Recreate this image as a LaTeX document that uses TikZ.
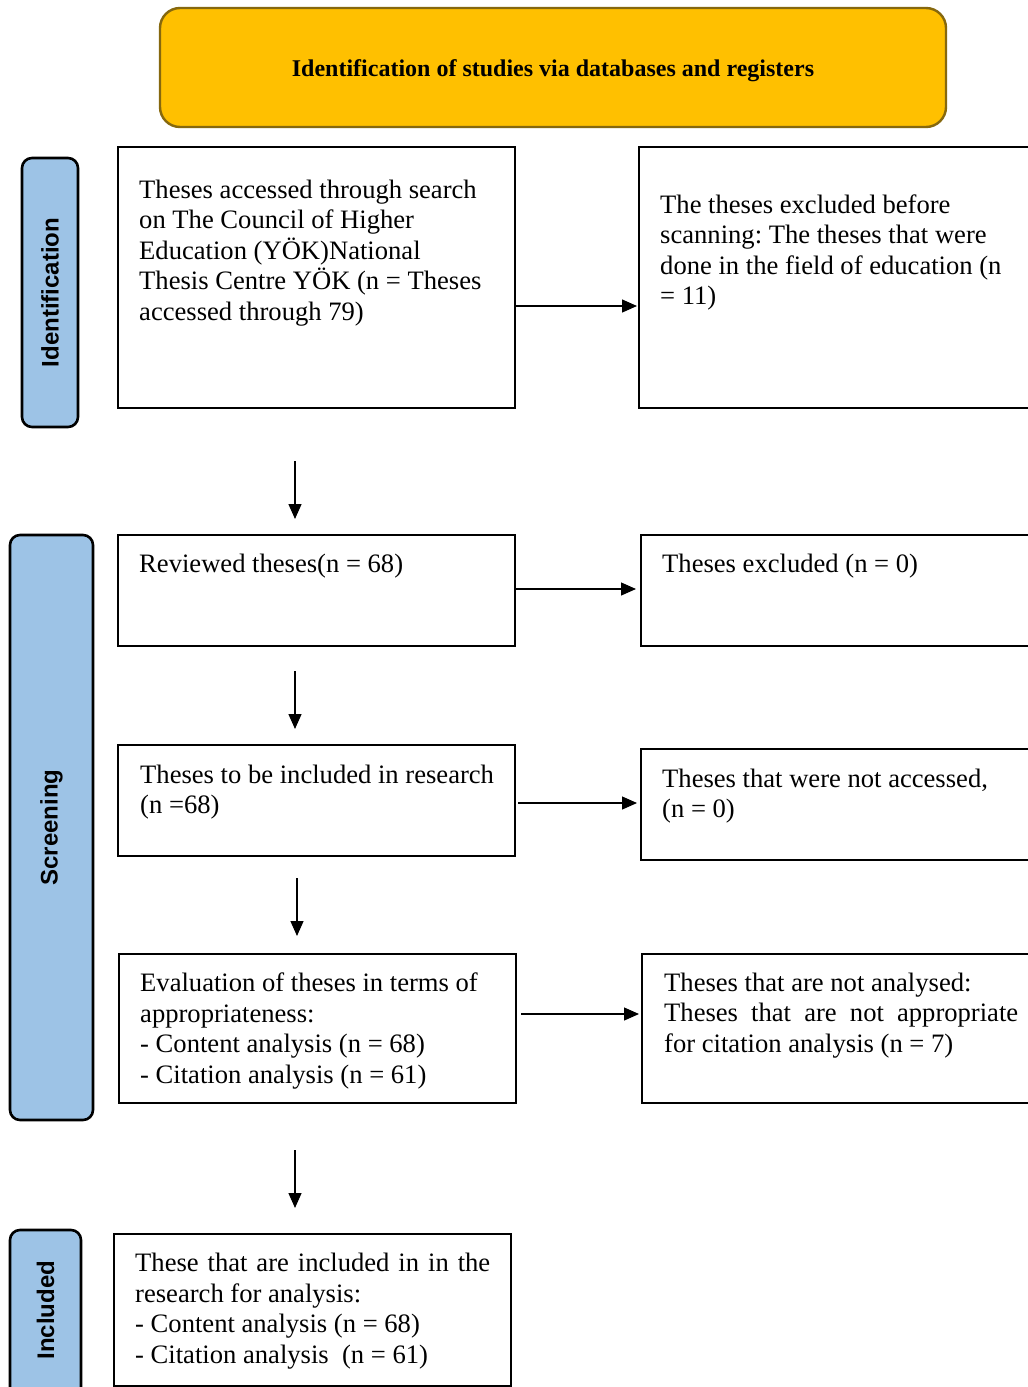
\documentclass[tikz,border=0pt]{standalone}
\usepackage{fontspec}
\setmainfont{Liberation Serif}
\newfontfamily\sidefont{Liberation Sans}
\usetikzlibrary{arrows.meta,calc}
\definecolor{hdrfill}{HTML}{FFC000}
\definecolor{hdrdraw}{HTML}{86680E}
\definecolor{sidefill}{HTML}{9DC3E6}
\frenchspacing
\begin{document}
\begin{tikzpicture}[x=1pt,y=-1pt,
  box/.style={draw=black,line width=2.4pt,fill=white,rectangle,anchor=north west,outer sep=0pt,inner sep=0pt},
  sidebox/.style={draw=black,line width=2.6pt,fill=sidefill,rounded corners=10pt,rectangle,anchor=north west,outer sep=0pt,inner sep=0pt},
  sidelabel/.style={rotate=90,font=\sidefont\fontsize{24}{28}\selectfont\bfseries,inner sep=0pt},
  txt/.style={anchor=base west,inner sep=0pt,align=left,font=\fontsize{26.6}{30.5}\selectfont},
  arr/.style={line width=1.3pt,-{Triangle[length=15pt,width=13pt]}}
]
\clip (0,0) rectangle (1028,1387);
\fill[white] (0,0) rectangle (1028,1387);

% header
\node[draw=hdrdraw,line width=2.4pt,fill=hdrfill,rounded corners=20pt,anchor=north west,outer sep=0pt,inner sep=0pt,
  minimum width=786pt,minimum height=119pt] (hdr) at (160,8) {};
\node[font=\fontsize{24}{28}\selectfont\bfseries,inner sep=0pt] (hdrtxt) at ($(hdr.center)+(0,3)$) {Identification of studies via databases and registers};

% side bars
\node[sidebox,minimum width=56pt,minimum height=269pt] (sideI) at (22,158) {};
\node[sidelabel] (sideIt) at (sideI.center) {Identification};
\node[sidebox,minimum width=83pt,minimum height=585pt] (sideS) at (10,535) {};
\node[sidelabel] (sideSt) at (sideS.center) {Screening};
\node[sidebox,minimum width=71pt,minimum height=200pt] (sideN) at (10,1230) {};
\node[sidelabel] (sideNt) at (45.5,1310) {Included};

% boxes
\node[box,minimum width=397pt,minimum height=261pt] (b1) at (118,147) {};
\node[box,minimum width=420pt,minimum height=261pt] (r1) at (639,147) {};
\node[box,minimum width=397pt,minimum height=111pt] (b2) at (118,535) {};
\node[box,minimum width=420pt,minimum height=111pt] (r2) at (641,535) {};
\node[box,minimum width=397pt,minimum height=111pt] (b3) at (118,745) {};
\node[box,minimum width=420pt,minimum height=111pt] (r3) at (641,749) {};
\node[box,minimum width=397pt,minimum height=149pt] (b4) at (119,954) {};
\node[box,minimum width=420pt,minimum height=149pt] (r4) at (642,954) {};
\node[box,minimum width=397pt,minimum height=152pt] (b5) at (114,1234) {};

% texts (anchor = baseline of the last line)
\node[txt] (t1) at (139,320) {Theses accessed through search\\on The Council of Higher\\Education (YÖK)National\\Thesis Centre YÖK (n = Theses\\accessed through 79)};
\node[txt] (tr1) at (660,304.5) {The theses excluded before\\scanning: The theses that were\\done in the field of education (n\\= 11)};
\node[txt] (t2) at (139,572) {Reviewed theses(n = 68)};
\node[txt] (tr2) at (662,572) {Theses excluded (n = 0)};
\node[txt] (t3) at (140,813.5) {Theses to be included in research\\(n =68)};
\node[txt] (tr3) at (662,817.5) {Theses that were not accessed,\\(n = 0)};
\node[txt] (t4) at (140,1083) {Evaluation of theses in terms of\\appropriateness:\\- Content analysis (n = 68)\\- Citation analysis (n = 61)};
\node[txt] (tr4) at (664,1052) {Theses that are not analysed:\\\makebox[354pt][s]{Theses that are not appropriate}\\for citation analysis (n = 7)};
\node[txt] (t5) at (135,1363) {\makebox[355pt][s]{These that are included in in the}\\research for analysis:\\- Content analysis (n = 68)\\- Citation analysis\ \ (n = 61)};

% horizontal arrows
\draw[arr] (b1.east |- 0,306) -- ([xshift=-2pt]r1.west |- 0,306);
\draw[arr] (b2.east |- 0,589) -- ([xshift=-5pt]r2.west |- 0,589);
\draw[arr] ([xshift=3pt]b3.east |- 0,803) -- ([xshift=-4pt]r3.west |- 0,803);
\draw[arr] ([xshift=5pt]b4.east |- 0,1014) -- ([xshift=-3pt]r4.west |- 0,1014);

% vertical arrows
\draw[arr] ($(b1.south)+(-21.5,53)$) -- ($(b2.north)+(-21.5,-16)$);
\draw[arr] ($(b2.south)+(-21.5,25)$) -- ($(b3.north)+(-21.5,-16)$);
\draw[arr] ($(b3.south)+(-19.5,22)$) -- ($(b4.north)+(-20.5,-18)$);
\draw[arr] ($(b4.south)+(-22.5,47)$) -- ($(b5.north)+(-17.5,-26)$);
\end{tikzpicture}
\end{document}
